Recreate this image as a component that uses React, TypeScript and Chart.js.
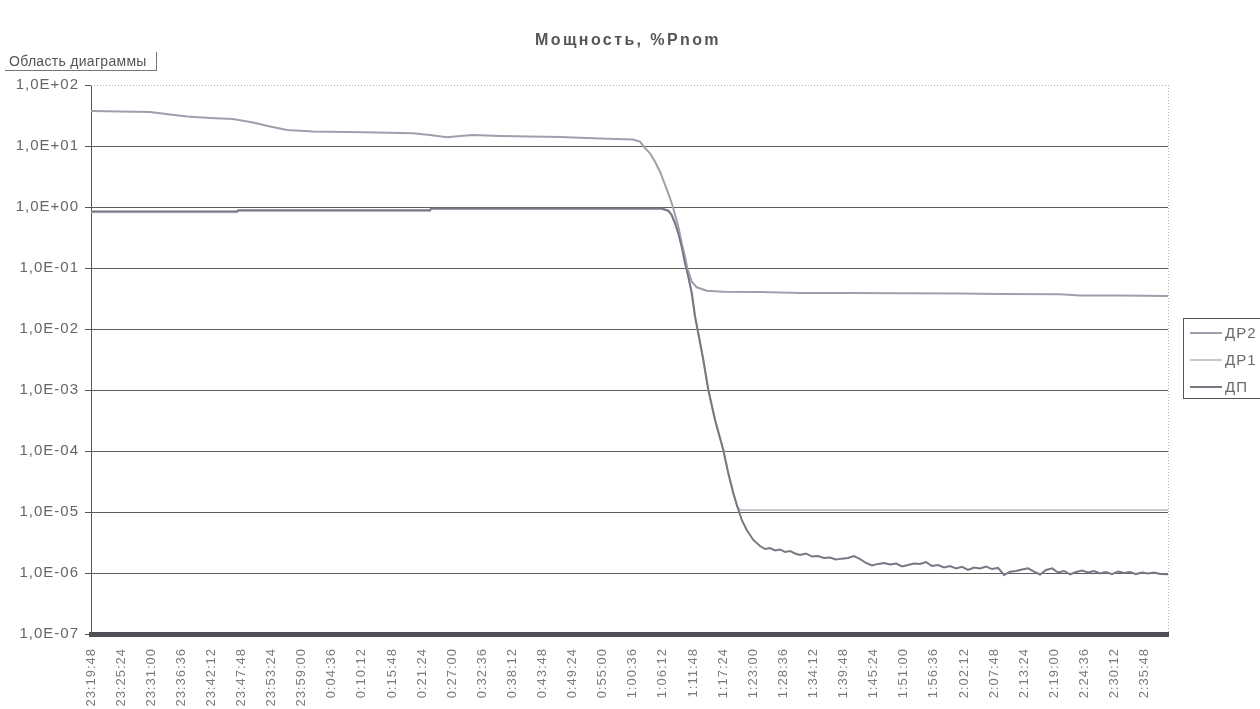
import { useEffect, useRef } from 'react';
import { Chart, registerables } from 'chart.js';

Chart.register(...registerables);

const FONT = "'Liberation Sans', Arial, sans-serif";

const chartTitle = 'Мощность, %Pnom';
const areaCaption = 'Область диаграммы';

// Category labels along the time axis (every 5 min 36 s)
const timeLabels = [
  '23:19:48', '23:25:24', '23:31:00', '23:36:36', '23:42:12', '23:47:48',
  '23:53:24', '23:59:00', '0:04:36', '0:10:12', '0:15:48', '0:21:24',
  '0:27:00', '0:32:36', '0:38:12', '0:43:48', '0:49:24', '0:55:00',
  '1:00:36', '1:06:12', '1:11:48', '1:17:24', '1:23:00', '1:28:36',
  '1:34:12', '1:39:48', '1:45:24', '1:51:00', '1:56:36', '2:02:12',
  '2:07:48', '2:13:24', '2:19:00', '2:24:36', '2:30:12', '2:35:48',
];
const lastSample = '2:40:10';

// Decade ticks of the power axis, %Pnom
const powerTicks = [1e-7, 1e-6, 1e-5, 1e-4, 1e-3, 1e-2, 1e-1, 1, 10, 100];

const seriesNames = ['ДР2', 'ДР1', 'ДП'];
const seriesColors = ['#a09eac', '#c8c8d0', '#787884'];

// ДР2: [time, %Pnom]
const dr2: [string, number][] = [
  ['23:19:48', 37.5], ['23:25:12', 36.8], ['23:30:48', 36.1], ['23:34:30', 32.8],
  ['23:37:40', 30.5], ['23:41:56', 28.8], ['23:46:13', 27.7], ['23:49:56', 24.3],
  ['23:53:06', 20.9], ['23:56:16', 18.3], ['0:01:06', 17.3], ['0:10:24', 16.8],
  ['0:19:42', 16.2], ['0:22:52', 15.1], ['0:26:02', 13.9], ['0:28:27', 14.6],
  ['0:30:52', 15.1], ['0:35:54', 14.6], ['0:41:29', 14.3], ['0:47:03', 14.1],
  ['0:54:30', 13.3], ['1:00:38', 12.8], ['1:01:56', 11.8], ['1:02:52', 9.2],
  ['1:03:48', 7.6], ['1:04:44', 5.53], ['1:05:40', 3.79], ['1:06:36', 2.3],
  ['1:07:32', 1.39], ['1:08:08', 0.953], ['1:09:04', 0.475], ['1:09:42', 0.254],
  ['1:10:19', 0.153], ['1:10:45', 0.0989], ['1:11:34', 0.0596], ['1:12:29', 0.0483],
  ['1:14:21', 0.0425], ['1:17:26', 0.0409], ['1:24:16', 0.0404], ['1:31:42', 0.0389],
  ['1:41:01', 0.0389], ['1:50:19', 0.0385], ['2:01:29', 0.0382], ['2:08:55', 0.0375],
  ['2:20:05', 0.037], ['2:23:48', 0.0354], ['2:31:15', 0.0354], ['2:40:10', 0.0347],
];

// ДР1: [time, %Pnom]
const dr1: [string, number][] = [
  ['23:19:48', 0.82], ['23:46:58', 0.82], ['23:47:10', 0.86], ['0:22:52', 0.86],
  ['0:23:04', 0.93], ['1:05:58', 0.93], ['1:07:12', 0.869], ['1:07:50', 0.739],
  ['1:08:27', 0.541], ['1:09:04', 0.371], ['1:09:42', 0.223], ['1:10:19', 0.119],
  ['1:10:56', 0.0719], ['1:11:34', 0.0385], ['1:12:11', 0.0159], ['1:12:47', 0.0085],
  ['1:13:43', 0.0031], ['1:14:39', 0.001], ['1:15:54', 3.22e-4], ['1:17:26', 1.04e-4],
  ['1:18:22', 4.3e-5], ['1:19:18', 2.03e-5], ['1:20:03', 1.22e-5], ['1:20:40', 1.08e-5],
  ['2:00:00', 1.08e-5], ['2:40:10', 1.08e-5],
];

// ДП: [time, %Pnom]
const dp: [string, number][] = [
  ['23:19:48', 0.84], ['23:46:58', 0.84], ['23:47:10', 0.883], ['0:22:52', 0.883],
  ['0:23:04', 0.944], ['1:05:58', 0.944], ['1:07:12', 0.869], ['1:07:50', 0.739],
  ['1:08:27', 0.541], ['1:09:04', 0.371], ['1:09:42', 0.223], ['1:10:19', 0.119],
  ['1:10:56', 0.0719], ['1:11:34', 0.0385], ['1:12:11', 0.0159], ['1:12:47', 0.0085],
  ['1:13:43', 0.0031], ['1:14:39', 0.001], ['1:15:54', 3.22e-4], ['1:17:26', 1.04e-4],
  ['1:18:22', 4.3e-5], ['1:19:18', 2.03e-5], ['1:20:03', 1.22e-5], ['1:20:52', 7.4e-6],
  ['1:21:48', 5.07e-6], ['1:23:01', 3.48e-6], ['1:24:16', 2.77e-6], ['1:25:12', 2.47e-6],
  ['1:26:08', 2.57e-6], ['1:27:03', 2.34e-6], ['1:27:59', 2.43e-6], ['1:28:55', 2.21e-6],
  ['1:29:51', 2.3e-6], ['1:30:47', 2.09e-6], ['1:31:42', 1.97e-6], ['1:32:49', 2.09e-6],
  ['1:33:56', 1.86e-6], ['1:35:03', 1.9e-6], ['1:36:10', 1.76e-6], ['1:37:17', 1.79e-6],
  ['1:38:24', 1.66e-6], ['1:39:31', 1.72e-6], ['1:40:38', 1.76e-6], ['1:41:45', 1.9e-6],
  ['1:42:53', 1.69e-6], ['1:44:00', 1.46e-6], ['1:45:07', 1.33e-6], ['1:46:14', 1.41e-6],
  ['1:47:21', 1.46e-6], ['1:48:28', 1.38e-6], ['1:49:35', 1.43e-6], ['1:50:42', 1.28e-6],
  ['1:51:49', 1.35e-6], ['1:52:55', 1.43e-6], ['1:54:02', 1.41e-6], ['1:55:09', 1.51e-6],
  ['1:56:16', 1.3e-6], ['1:57:23', 1.35e-6], ['1:58:30', 1.23e-6], ['1:59:37', 1.3e-6],
  ['2:00:44', 1.19e-6], ['2:01:51', 1.26e-6], ['2:02:58', 1.12e-6], ['2:04:05', 1.23e-6],
  ['2:05:12', 1.19e-6], ['2:06:19', 1.28e-6], ['2:07:26', 1.16e-6], ['2:08:33', 1.21e-6],
  ['2:09:40', 9.3e-7], ['2:10:47', 1.05e-6], ['2:11:54', 1.08e-6], ['2:13:01', 1.14e-6],
  ['2:14:08', 1.19e-6], ['2:15:15', 1.05e-6], ['2:16:22', 9.45e-7], ['2:17:29', 1.12e-6],
  ['2:18:36', 1.19e-6], ['2:19:43', 1.02e-6], ['2:20:50', 1.08e-6], ['2:21:57', 9.5e-7],
  ['2:23:04', 1.04e-6], ['2:24:11', 1.1e-6], ['2:25:18', 1.02e-6], ['2:26:24', 1.08e-6],
  ['2:27:31', 9.8e-7], ['2:28:38', 1.04e-6], ['2:29:45', 9.6e-7], ['2:30:52', 1.06e-6],
  ['2:31:59', 1.0e-6], ['2:33:06', 1.04e-6], ['2:34:13', 9.6e-7], ['2:35:20', 1.02e-6],
  ['2:36:27', 9.8e-7], ['2:37:34', 1.02e-6], ['2:38:41', 9.6e-7], ['2:40:10', 9.5e-7],
];

// clock time -> seconds since the first sample (the record crosses midnight)
const clockSec = (s: string) => {
  const [h, m, sec] = s.split(':').map(Number);
  let v = h * 3600 + m * 60 + sec;
  if (h < 12) v += 86400;
  return v;
};
const startSec = clockSec(timeLabels[0]);
const rel = (s: string) => clockSec(s) - startSec;
const toPoints = (rows: [string, number][]) => rows.map(([t, v]) => ({ x: rel(t), y: v }));

const fmtPower = (v: number) => {
  const e = Math.round(Math.log10(v));
  const sign = e < 0 ? '-' : '+';
  return `1,0E${sign}${String(Math.abs(e)).padStart(2, '0')}`;
};

const setSpacing = (ctx: any, px: number) => {
  if ('letterSpacing' in ctx) ctx.letterSpacing = `${px}px`;
};

const framePlugin = {
  id: 'frameAndLegend',
  beforeDraw(chart: any) {
    // slightly spaced lettering for the axis labels
    setSpacing(chart.ctx, 1);
  },
  beforeDatasetsDraw(chart: any) {
    setSpacing(chart.ctx, 0);
  },
  afterDraw(chart: any) {
    const { ctx, chartArea } = chart;
    const { left, right, top, bottom } = chartArea;
    ctx.save();
    // dotted outline of the plot area (top and right edges)
    ctx.strokeStyle = '#b4b4b8';
    ctx.lineWidth = 1;
    ctx.setLineDash([1, 2]);
    ctx.beginPath();
    ctx.moveTo(left, top + 0.5);
    ctx.lineTo(right, top + 0.5);
    ctx.moveTo(right + 0.5, top);
    ctx.lineTo(right + 0.5, bottom);
    ctx.stroke();
    ctx.setLineDash([]);

    // title
    ctx.fillStyle = '#555555';
    ctx.font = `bold 16px ${FONT}`;
    ctx.textAlign = 'center';
    ctx.textBaseline = 'middle';
    setSpacing(ctx, 2.4);
    ctx.fillText(chartTitle, 628, 41);

    // legend box
    const lx = 1183;
    const ly = 318;
    ctx.strokeStyle = '#555';
    ctx.lineWidth = 1;
    ctx.strokeRect(lx + 0.5, ly + 0.5, 80, 80);
    ctx.font = `15px ${FONT}`;
    ctx.textAlign = 'left';
    setSpacing(ctx, 1);
    chart.data.datasets.forEach((ds: any, i: number) => {
      const y = ly + 15 + i * 27;
      ctx.strokeStyle = ds.borderColor;
      ctx.lineWidth = 2;
      ctx.beginPath();
      ctx.moveTo(lx + 7, y);
      ctx.lineTo(lx + 39, y);
      ctx.stroke();
      ctx.fillStyle = '#6a6a6a';
      ctx.fillText(ds.label, lx + 42, y + 1);
    });
    setSpacing(ctx, 0);
    ctx.restore();
  },
};

export default function App() {
  const canvasRef = useRef<HTMLCanvasElement | null>(null);

  useEffect(() => {
    const canvas = canvasRef.current;
    if (!canvas) return;
    const series = [dr2, dr1, dp];
    const chart = new Chart(canvas, {
      type: 'line',
      data: {
        datasets: series.map((rows, i) => ({
          label: seriesNames[i],
          data: toPoints(rows),
          borderColor: seriesColors[i],
          backgroundColor: seriesColors[i],
          borderWidth: 2,
          pointRadius: 0,
          tension: 0,
          fill: false,
          order: series.length - i,
        })),
      },
      options: {
        responsive: false,
        animation: false,
        events: [],
        layout: { padding: { top: 85, right: 92, left: 0, bottom: 0 } },
        plugins: {
          legend: { display: false },
          tooltip: { enabled: false },
          title: { display: false },
        },
        scales: {
          x: {
            type: 'linear',
            min: 0,
            max: rel(lastSample),
            afterBuildTicks: (s: any) => {
              s.ticks = timeLabels.map((l) => ({ value: rel(l) }));
            },
            afterFit: (s: any) => {
              s.height = 75;
            },
            grid: { display: true, drawOnChartArea: false, drawTicks: false },
            border: { display: true, color: '#4e4e56', width: 5 },
            ticks: {
              autoSkip: false,
              minRotation: 90,
              maxRotation: 90,
              padding: 14,
              color: '#7a7a7a',
              font: { family: FONT, size: 13 },
              callback: (_v: any, i: number) => timeLabels[i],
            },
          },
          y: {
            type: 'logarithmic',
            min: 1e-7,
            max: 100,
            afterBuildTicks: (s: any) => {
              s.ticks = powerTicks.map((v) => ({ value: v }));
            },
            afterFit: (s: any) => {
              s.width = 91;
            },
            grid: {
              color: (c: any) => (c.tick && c.tick.value === 100 ? 'rgba(0,0,0,0)' : '#58625a'),
              tickColor: '#555',
              tickLength: 6,
              lineWidth: 1,
            },
            border: { color: '#555', width: 1 },
            ticks: {
              color: '#666',
              padding: 6,
              font: { family: FONT, size: 15 },
              callback: (v: any) => fmtPower(Number(v)),
            },
          },
        },
      },
      plugins: [framePlugin],
    });
    return () => chart.destroy();
  }, []);

  return (
    <div style={{ position: 'fixed', left: 0, top: 0, width: 1260, height: 709, background: '#fff' }}>
      <canvas ref={canvasRef} width={1260} height={709} style={{ display: 'block' }} />
      <div
        style={{
          position: 'absolute',
          left: 5,
          top: 52,
          width: 147,
          height: 18,
          paddingLeft: 4,
          borderRight: '1px solid #777',
          borderBottom: '1px solid #777',
          font: `14px ${FONT}`,
          letterSpacing: '0.3px',
          color: '#555',
          lineHeight: '18px',
          whiteSpace: 'nowrap',
        }}
      >
        {areaCaption}
      </div>
    </div>
  );
}
